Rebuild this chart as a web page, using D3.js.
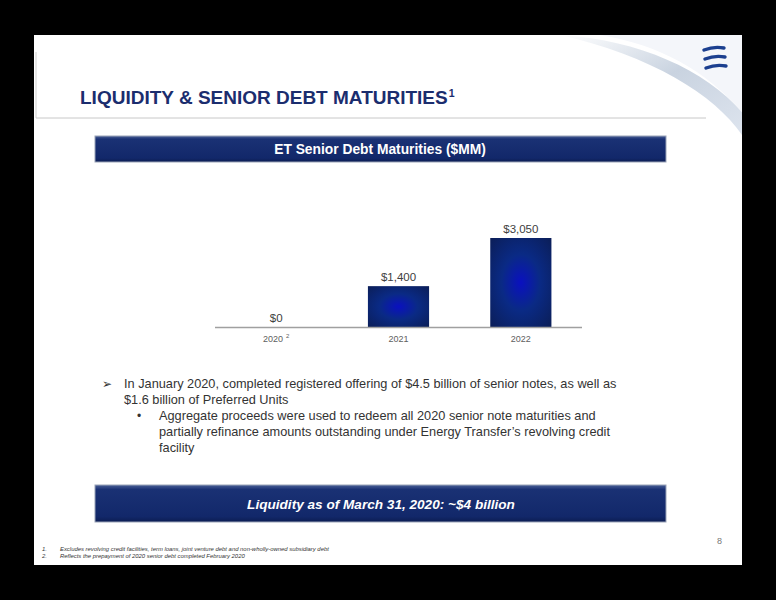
<!DOCTYPE html>
<html><head><meta charset="utf-8">
<script src="https://cdn.jsdelivr.net/npm/d3@7"></script>
<style>html,body{margin:0;padding:0;background:#000;}svg{display:block;}</style>
</head><body>
<script>
const categories = ["2020", "2021", "2022"];
const values = [0, 1400, 3050];
const valueLabels = ["$0", "$1,400", "$3,050"];
const catSuperscripts = ["2", "", ""];
const title = "LIQUIDITY & SENIOR DEBT MATURITIES";
const chartTitle = "ET Senior Debt Maturities ($MM)";
const bullet1 = ["In January 2020, completed registered offering of $4.5 billion of senior notes, as well as", "$1.6 billion of Preferred Units"];
const bullet2 = ["Aggregate proceeds were used to redeem all 2020 senior note maturities and", "partially refinance amounts outstanding under Energy Transfer\u2019s revolving credit", "facility"];
const liquidity = "Liquidity as of March 31, 2020: ~$4 billion";
const footnotes = ["Excludes revolving credit facilities, term loans, joint venture debt and non-wholly-owned subsidiary debt", "Reflects the prepayment of 2020 senior debt completed February 2020"];

const W = 776, H = 600;
const svg = d3.select("body").append("svg").attr("width", W).attr("height", H);
const defs = svg.append("defs");
const font = "Liberation Sans, Arial, sans-serif";

// slide background
svg.append("rect").attr("width", W).attr("height", H).attr("fill", "#000");
svg.append("rect").attr("x", 34).attr("y", 35).attr("width", 708).attr("height", 530).attr("fill", "#fff");

// swoosh
const sw = defs.append("linearGradient").attr("id", "sw").attr("x1", 0).attr("y1", 0).attr("x2", 1).attr("y2", 1);
sw.append("stop").attr("offset", 0).attr("stop-color", "#ffffff");
sw.append("stop").attr("offset", 0.5).attr("stop-color", "#c9d3e0");
sw.append("stop").attr("offset", 1).attr("stop-color", "#dde4ee");
svg.append("path")
  .attr("d", "M560,35 C640,40 705,70 742,112 L742,135 C715,95 650,55 560,35 Z")
  .attr("fill", "url(#sw)");
svg.append("path")
  .attr("d", "M600,35 L742,35 L742,112 C705,70 660,45 600,35 Z")
  .attr("fill", "#f4f6fa");
// logo stripes
[[0, 0], [1, 9], [2, 18]].forEach(([i, dy]) => {
  svg.append("path")
    .attr("d", `M${704 + i * 1},${50 + dy} q10,-4 20,-2`)
    .attr("stroke", "#1b3f8f").attr("stroke-width", 3.4).attr("fill", "none").attr("stroke-linecap", "round");
});

// title lines
svg.append("line").attr("x1", 36).attr("x2", 36).attr("y1", 52).attr("y2", 118).attr("stroke", "#d0d0d0");
svg.append("line").attr("x1", 36).attr("x2", 706).attr("y1", 118).attr("y2", 118).attr("stroke", "#c8c8c8");
const t = svg.append("text").attr("x", 80).attr("y", 104).attr("font-family", font)
  .attr("font-weight", "bold").attr("font-size", 19).attr("fill", "#1b2d6e");
t.append("tspan").text(title);
t.append("tspan").attr("font-size", 10.5).attr("dy", -7).attr("dx", 1).text("1");

// header box gradient
const hb = defs.append("linearGradient").attr("id", "hb").attr("x1", 0).attr("y1", 0).attr("x2", 0).attr("y2", 1);
hb.append("stop").attr("offset", 0).attr("stop-color", "#4a5f96");
hb.append("stop").attr("offset", 0.12).attr("stop-color", "#1a3174");
hb.append("stop").attr("offset", 0.85).attr("stop-color", "#12286a");
hb.append("stop").attr("offset", 1).attr("stop-color", "#0c1d52");
function box(x, y, w, h) {
  svg.append("rect").attr("x", x).attr("y", y).attr("width", w).attr("height", h)
    .attr("fill", "url(#hb)").attr("stroke", "#9aa3b8").attr("stroke-width", 1);
}
box(95, 136, 571, 26);
svg.append("text").attr("x", 380).attr("y", 154).attr("text-anchor", "middle").attr("font-family", font)
  .attr("font-weight", "bold").attr("font-size", 13.8).attr("fill", "#fff").text(chartTitle);

// bar chart
const baseY = 327;
const x = d3.scaleBand().domain(categories).range([215, 582]).paddingInner(0.5).paddingOuter(0.25);
const y = d3.scaleLinear().domain([0, 3050]).range([baseY, 238]);
const rg = defs.append("radialGradient").attr("id", "bar").attr("cx", 0.5).attr("cy", 0.5).attr("r", 0.7);
rg.append("stop").attr("offset", 0).attr("stop-color", "#0a10c0");
rg.append("stop").attr("offset", 0.45).attr("stop-color", "#0a2a85");
rg.append("stop").attr("offset", 1).attr("stop-color", "#0b1e58");
svg.selectAll("rect.bar").data(values).enter().append("rect").attr("class", "bar")
  .attr("x", (d, i) => x(categories[i])).attr("width", x.bandwidth())
  .attr("y", d => y(d)).attr("height", d => baseY - y(d))
  .attr("fill", "url(#bar)");
svg.append("line").attr("x1", 215).attr("x2", 582).attr("y1", baseY + 0.5).attr("y2", baseY + 0.5)
  .attr("stroke", "#a0a0a0").attr("stroke-width", 1.5);
svg.selectAll("text.vl").data(values).enter().append("text").attr("class", "vl")
  .attr("x", (d, i) => x(categories[i]) + x.bandwidth() / 2).attr("y", d => y(d) - 5)
  .attr("text-anchor", "middle").attr("font-family", font).attr("font-size", 11.5).attr("fill", "#404040")
  .text((d, i) => valueLabels[i]);
const cl = svg.selectAll("text.cl").data(categories).enter().append("text").attr("class", "cl")
  .attr("x", d => x(d) + x.bandwidth() / 2).attr("y", 342)
  .attr("text-anchor", "middle").attr("font-family", font).attr("font-size", 9).attr("fill", "#606060");
cl.append("tspan").text(d => d);
cl.append("tspan").attr("font-size", 6).attr("dy", -4).attr("dx", 3).text((d, i) => catSuperscripts[i]);

// bullets
const tc = "#333";
svg.append("text").attr("x", 102).attr("y", 388).attr("font-family", "DejaVu Sans, sans-serif").attr("font-size", 12).attr("fill", tc).text("\u27A2");
bullet1.forEach((s, i) => svg.append("text").attr("x", 124).attr("y", 388 + i * 16).attr("font-family", font)
  .attr("font-size", 12.75).attr("fill", tc).text(s));
svg.append("text").attr("x", 137).attr("y", 420).attr("font-family", font).attr("font-size", 12).attr("fill", tc).text("\u2022");
bullet2.forEach((s, i) => svg.append("text").attr("x", 159).attr("y", 420 + i * 16).attr("font-family", font)
  .attr("font-size", 12.75).attr("fill", tc).text(s));

// liquidity box
box(95, 485, 571, 37);
svg.append("text").attr("x", 381).attr("y", 509).attr("text-anchor", "middle").attr("font-family", font)
  .attr("font-weight", "bold").attr("font-style", "italic").attr("font-size", 13.6).attr("fill", "#fff").text(liquidity);

// page number & footnotes
svg.append("text").attr("x", 722).attr("y", 544).attr("text-anchor", "end").attr("font-family", font)
  .attr("font-size", 9).attr("fill", "#777").text("8");
footnotes.forEach((s, i) => {
  svg.append("text").attr("x", 42).attr("y", 551 + i * 7).attr("font-family", font).attr("font-size", 5.9)
    .attr("font-style", "italic").attr("fill", "#333").text((i + 1) + ".");
  svg.append("text").attr("x", 60).attr("y", 551 + i * 7).attr("font-family", font).attr("font-size", 5.9)
    .attr("font-style", "italic").attr("fill", "#333").text(s);
});
</script>
</body></html>
